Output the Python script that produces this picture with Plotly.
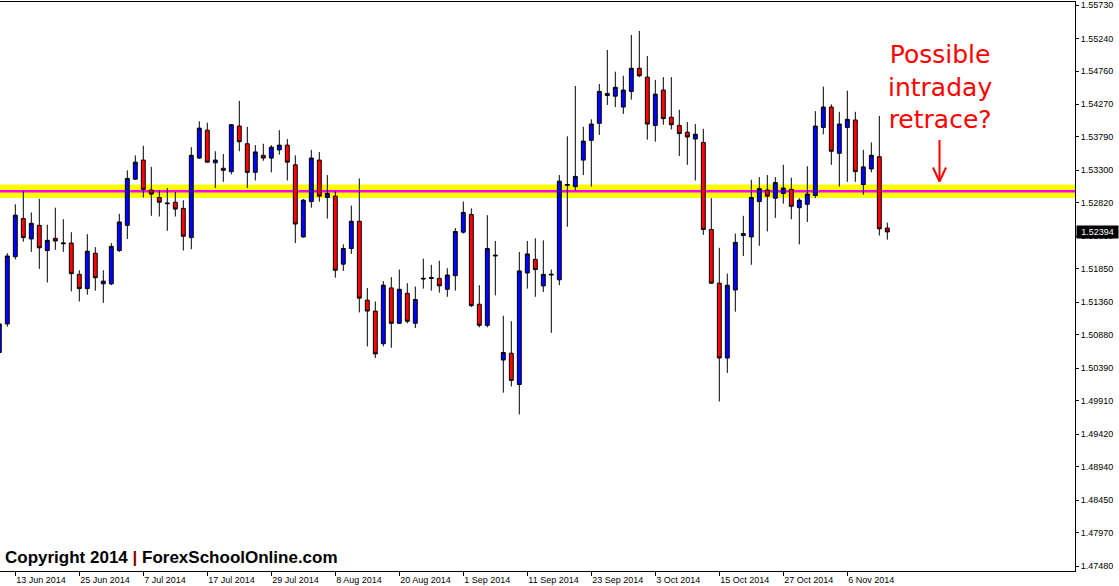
import pandas as pd
import plotly.graph_objects as go

# ---------------- data (GBP daily candles, 11 Jun 2014 - 13 Nov 2014) ----------------
dates = [d.strftime("%Y-%m-%d") for d in pd.bdate_range("2014-06-11", "2014-11-13")]

opens = [1.5062, 1.5104, 1.5203, 1.5259, 1.5229, 1.5249, 1.5212, 1.5230, 1.5222, 1.5223,
         1.5177, 1.5156, 1.5208, 1.5163, 1.5163, 1.5212, 1.5249, 1.5317, 1.5345, 1.5301,
         1.5290, 1.5282, 1.5283, 1.5274, 1.5231, 1.5348, 1.5389, 1.5341, 1.5333, 1.5328,
         1.5395, 1.5369, 1.5327, 1.5352, 1.5348, 1.5360, 1.5367, 1.5338, 1.5232, 1.5284,
         1.5345, 1.5290, 1.5292, 1.5192, 1.5215, 1.5255, 1.5139, 1.5123, 1.5075, 1.5157,
         1.5105, 1.5149, 1.5105, 1.5170, 1.5171, 1.5171, 1.5155, 1.5175, 1.5239, 1.5265,
         1.5133, 1.5102, 1.5204, 1.5051, 1.5061, 1.5015, 1.5179, 1.5199, 1.5160, 1.5176,
         1.5169, 1.5308, 1.5306, 1.5345, 1.5374, 1.5399, 1.5443, 1.5439, 1.5423, 1.5446,
         1.5480, 1.5467, 1.5396, 1.5448, 1.5408, 1.5396, 1.5386, 1.5376, 1.5371, 1.5243,
         1.5164, 1.5054, 1.5154, 1.5237, 1.5232, 1.5284, 1.5301, 1.5289, 1.5296, 1.5302,
         1.5275, 1.5280, 1.5293, 1.5393, 1.5423, 1.5355, 1.5393, 1.5404, 1.5309, 1.5332,
         1.5350, 1.5245]

highs = [1.5110, 1.5208, 1.5280, 1.5300, 1.5268, 1.5288, 1.5250, 1.5275, 1.5258, 1.5239,
         1.5183, 1.5236, 1.5217, 1.5183, 1.5223, 1.5266, 1.5330, 1.5352, 1.5366, 1.5335,
         1.5301, 1.5304, 1.5298, 1.5286, 1.5364, 1.5402, 1.5400, 1.5358, 1.5354, 1.5398,
         1.5432, 1.5394, 1.5367, 1.5369, 1.5367, 1.5389, 1.5376, 1.5352, 1.5288, 1.5360,
         1.5357, 1.5323, 1.5299, 1.5221, 1.5278, 1.5318, 1.5157, 1.5137, 1.5167, 1.5173,
         1.5184, 1.5164, 1.5159, 1.5200, 1.5191, 1.5197, 1.5186, 1.5245, 1.5284, 1.5274,
         1.5161, 1.5264, 1.5226, 1.5116, 1.5108, 1.5210, 1.5226, 1.5230, 1.5227, 1.5184,
         1.5323, 1.5380, 1.5454, 1.5394, 1.5405, 1.5457, 1.5507, 1.5475, 1.5469, 1.5529,
         1.5535, 1.5498, 1.5463, 1.5467, 1.5467, 1.5419, 1.5401, 1.5398, 1.5391, 1.5289,
         1.5216, 1.5178, 1.5237, 1.5263, 1.5316, 1.5320, 1.5323, 1.5320, 1.5338, 1.5319,
         1.5289, 1.5336, 1.5417, 1.5453, 1.5427, 1.5416, 1.5447, 1.5416, 1.5360, 1.5371,
         1.5410, 1.5253]

lows = [1.5058, 1.5100, 1.5199, 1.5225, 1.5210, 1.5185, 1.5165, 1.5213, 1.5210, 1.5152,
        1.5137, 1.5147, 1.5153, 1.5135, 1.5161, 1.5210, 1.5229, 1.5316, 1.5290, 1.5263,
        1.5262, 1.5241, 1.5262, 1.5212, 1.5214, 1.5347, 1.5341, 1.5304, 1.5313, 1.5324,
        1.5358, 1.5304, 1.5315, 1.5344, 1.5327, 1.5353, 1.5315, 1.5223, 1.5231, 1.5275,
        1.5284, 1.5259, 1.5172, 1.5182, 1.5207, 1.5121, 1.5071, 1.5054, 1.5071, 1.5069,
        1.5104, 1.5105, 1.5098, 1.5156, 1.5153, 1.5150, 1.5144, 1.5153, 1.5237, 1.5129,
        1.5099, 1.5099, 1.5146, 1.5003, 1.5012, 1.4971, 1.5156, 1.5144, 1.5151, 1.5091,
        1.5161, 1.5247, 1.5300, 1.5323, 1.5306, 1.5382, 1.5426, 1.5423, 1.5413, 1.5434,
        1.5467, 1.5375, 1.5372, 1.5397, 1.5390, 1.5351, 1.5338, 1.5315, 1.5235, 1.5163,
        1.4990, 1.5032, 1.5122, 1.5204, 1.5191, 1.5219, 1.5240, 1.5260, 1.5281, 1.5258,
        1.5221, 1.5254, 1.5289, 1.5383, 1.5338, 1.5306, 1.5313, 1.5313, 1.5294, 1.5327,
        1.5234, 1.5228]

closes = [1.5104, 1.5204, 1.5264, 1.5231, 1.5252, 1.5216, 1.5227, 1.5226, 1.5223, 1.5178,
          1.5156, 1.5211, 1.5172, 1.5167, 1.5218, 1.5254, 1.5318, 1.5342, 1.5302, 1.5295,
          1.5283, 1.5281, 1.5273, 1.5233, 1.5352, 1.5392, 1.5342, 1.5345, 1.5330, 1.5397,
          1.5372, 1.5327, 1.5357, 1.5348, 1.5364, 1.5367, 1.5342, 1.5251, 1.5286, 1.5348,
          1.5292, 1.5296, 1.5183, 1.5215, 1.5255, 1.5142, 1.5123, 1.5060, 1.5161, 1.5105,
          1.5155, 1.5108, 1.5140, 1.5171, 1.5172, 1.5160, 1.5176, 1.5240, 1.5268, 1.5131,
          1.5102, 1.5215, 1.5205, 1.5062, 1.5021, 1.5182, 1.5207, 1.5184, 1.5177, 1.5177,
          1.5314, 1.5309, 1.5321, 1.5373, 1.5398, 1.5446, 1.5440, 1.5452, 1.5448, 1.5480,
          1.5469, 1.5398, 1.5442, 1.5406, 1.5397, 1.5384, 1.5379, 1.5383, 1.5243, 1.5164,
          1.5054, 1.5161, 1.5224, 1.5234, 1.5290, 1.5303, 1.5292, 1.5312, 1.5304, 1.5277,
          1.5286, 1.5295, 1.5395, 1.5423, 1.5358, 1.5398, 1.5405, 1.5328, 1.5335, 1.5352,
          1.5244, 1.52394]

x_tick_dates = ["2014-06-13", "2014-06-25", "2014-07-07", "2014-07-17", "2014-07-29",
                "2014-08-08", "2014-08-20", "2014-09-01", "2014-09-11", "2014-09-23",
                "2014-10-03", "2014-10-15", "2014-10-27", "2014-11-06"]
x_tick_labels = ["13 Jun 2014", "25 Jun 2014", "7 Jul 2014", "17 Jul 2014", "29 Jul 2014",
                 "8 Aug 2014", "20 Aug 2014", "1 Sep 2014", "11 Sep 2014", "23 Sep 2014",
                 "3 Oct 2014", "15 Oct 2014", "27 Oct 2014", "6 Nov 2014"]
y_ticks = [1.55730, 1.55240, 1.54760, 1.54270, 1.53790, 1.53300, 1.52820, 1.52330, 1.51850,
           1.51360, 1.50880, 1.50390, 1.49910, 1.49420, 1.48940, 1.48450, 1.47970, 1.47480]

level_line = 1.52992          # magenta level
level_zone = (1.52892, 1.53091)  # yellow zone
last_price = 1.52394

# ---------------- figure ----------------
W, H = 1119, 586
ML, MR, MT, MB = 0, 44, 2, 15
PW, PH = W - ML - MR, H - MT - MB

def px(xp):   # pixel x -> paper
    return (xp - ML) / PW

def py(yp):   # pixel y -> paper
    return (H - MB - yp) / PH

fig = go.Figure()
fig.add_trace(go.Candlestick(
    x=dates, open=opens, high=highs, low=lows, close=closes,
    increasing=dict(fillcolor="#0000FF", line=dict(color="black", width=1)),
    decreasing=dict(fillcolor="#FF0000", line=dict(color="black", width=1)),
    whiskerwidth=0, hoverinfo="skip", showlegend=False,
))

# support zone and level (drawn behind candles)
fig.add_shape(type="rect", xref="paper", yref="y", x0=0, x1=1,
              y0=level_zone[0], y1=level_zone[1], fillcolor="#FFFF00",
              line=dict(width=0), layer="below")
fig.add_shape(type="line", xref="paper", yref="y", x0=0, x1=1,
              y0=level_line, y1=level_line, line=dict(color="#FF00FF", width=2.3),
              layer="below")

# red arrow
red = "#FF0000"
ax_px, tip_y, tail_y = 939.5, 181.5, 140
for (x0, y0, x1, y1) in [(ax_px, tail_y, ax_px, tip_y),
                         (ax_px - 6.5, tip_y - 14, ax_px, tip_y),
                         (ax_px + 6.5, tip_y - 14, ax_px, tip_y)]:
    fig.add_shape(type="line", xref="paper", yref="paper",
                  x0=px(x0), y0=py(y0), x1=px(x1), y1=py(y1),
                  line=dict(color=red, width=2))

fig.add_annotation(xref="paper", yref="paper", x=px(940), y=py(87),
                   xanchor="center", yanchor="middle",
                   text="Possible<br>intraday<br>retrace?", showarrow=False,
                   align="center",
                   font=dict(family="DejaVu Sans", size=25, color=red))

fig.add_annotation(xref="paper", yref="paper", x=px(3), y=py(557),
                   xanchor="left", yanchor="middle", showarrow=False,
                   text='Copyright 2014 <span style="color:#8B0000">|</span> ForexSchoolOnline.com',
                   font=dict(family="Liberation Sans", size=17, color="black", weight="bold"))

# current price tag
fig.add_annotation(xref="paper", yref="y", x=px(1076), y=last_price,
                   xanchor="left", yanchor="middle", showarrow=False,
                   text=f"{last_price:.5f}", bgcolor="black", borderpad=1,
                   width=39, align="center",
                   font=dict(family="Liberation Sans", size=9, color="white"))

fig.update_layout(
    width=W, height=H,
    margin=dict(l=ML, r=MR, t=MT, b=MB, pad=0, autoexpand=False),
    paper_bgcolor="white", plot_bgcolor="white",
    showlegend=False,
    xaxis=dict(
        type="category", range=[0.0875, 134.46],
        rangeslider=dict(visible=False), automargin=False,
        tickmode="array", tickvals=x_tick_dates, ticktext=x_tick_labels,
        tickangle=0,
        ticks="outside", ticklen=4, tickcolor="black", tickwidth=1,
        ticklabelposition="outside right",
        tickfont=dict(family="Liberation Sans", size=9, color="black"),
        showline=True, linecolor="black", linewidth=1, mirror=True,
        showgrid=False, zeroline=False, fixedrange=True,
    ),
    yaxis=dict(
        side="right", range=[1.47407, 1.55775], automargin=False,
        tickmode="array", tickvals=y_ticks,
        ticktext=[f"{v:.5f}" for v in y_ticks],
        ticks="outside", ticklen=3, tickcolor="black", tickwidth=1,
        tickfont=dict(family="Liberation Sans", size=9, color="black"),
        showline=True, linecolor="black", linewidth=1,
        showgrid=False, zeroline=False, fixedrange=True,
    ),
)

fig.write_html("out.html", config={"displayModeBar": False},
               post_script="document.body.style.margin='0';document.body.style.overflow='hidden';")
